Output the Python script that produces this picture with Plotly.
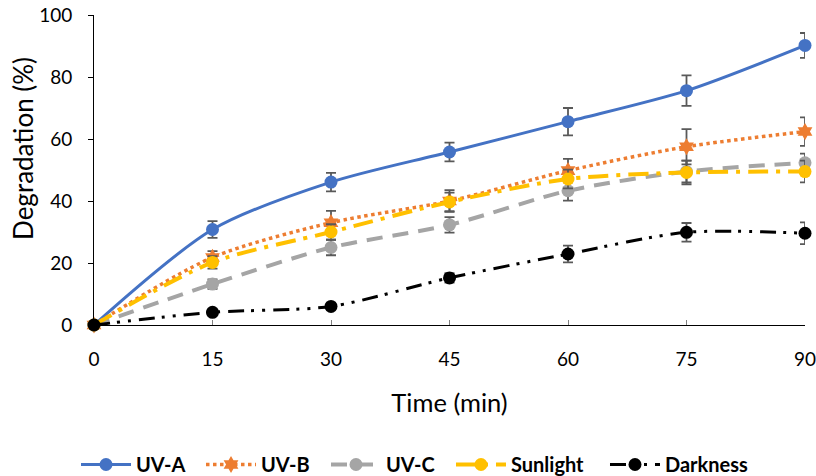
import plotly.graph_objects as go

time = [0, 15, 30, 45, 60, 75, 90]
uva = [0, 30.8, 46.1, 55.8, 65.6, 75.6, 90.2]
uva_err = [0, 2.7, 3.0, 3.0, 4.4, 4.9, 4.0]
uvb = [0, 21.8, 33.0, 40.0, 49.8, 57.5, 62.4]
uvb_err = [0, 2.0, 3.8, 3.5, 3.8, 5.7, 4.6]
uvc = [0, 13.2, 25.0, 32.3, 43.3, 49.5, 52.3]
uvc_err = [0, 1.5, 2.5, 2.5, 3.2, 3.5, 3.0]
sun = [0, 20.2, 30.0, 39.7, 47.1, 49.2, 49.5]
sun_err = [0, 2.0, 2.5, 3.0, 3.0, 3.8, 3.5]
dark = [0, 4.1, 6.0, 15.2, 22.9, 29.9, 29.6]
dark_err = [0, 1.0, 1.0, 1.5, 2.7, 3.0, 3.5]

series = [
    ("UV-A", uva, uva_err, "#4472C4", "solid", "circle", 3),
    ("UV-B", uvb, uvb_err, "#ED7D31", "dot", "hexagram", 3.5),
    ("UV-C", uvc, uvc_err, "#A5A5A5", "16px,10px", "circle", 4),
    ("Sunlight", sun, sun_err, "#FFC000", "longdashdot", "circle", 4),
    ("Darkness", dark, dark_err, "#000000", "16px,7px,3px,8px,3px,8px", "circle", 3),
]

# legend entry left positions (paper fraction)
legend_x = [-0.0253, 0.1505, 0.3263, 0.5021, 0.7187]

fig = go.Figure()
legends = {}
for i, (name, y, err, color, dash, sym, w) in enumerate(series):
    lname = "legend" if i == 0 else f"legend{i + 1}"
    fig.add_trace(go.Scatter(
        x=time, y=y, name=name, mode="lines+markers",
        line=dict(color=color, width=w, dash=dash, shape="spline", smoothing=0.8),
        marker=dict(color=color, size=13, symbol=sym),
        error_y=dict(type="data", array=err, visible=True, color="#595959",
                     thickness=1.8, width=5),
        cliponaxis=False, legend=lname,
    ))
    legends[lname] = dict(orientation="h", x=legend_x[i], xanchor="left", y=-0.45,
                          yanchor="middle", itemwidth=50, bgcolor="rgba(0,0,0,0)",
                          font=dict(size=20, color="#000000", weight="bold"))

fig.update_layout(
    width=816, height=476,
    margin=dict(l=94, r=11, t=15, b=151, autoexpand=False),
    plot_bgcolor="white", paper_bgcolor="white",
    font=dict(family="Lato, Liberation Sans, sans-serif", size=19, color="#000000"),
    showlegend=True,
    xaxis=dict(
        title=dict(text="Time (min)", font=dict(size=25.5), standoff=25),
        range=[0, 90], tickvals=time, ticks="inside", ticklen=5, tickcolor="#808080",
        ticklabelstandoff=17, ticklabeloverflow="allow",
        showline=True, linecolor="#000000", linewidth=1, showgrid=False, zeroline=False,
        tickfont=dict(size=19),
    ),
    yaxis=dict(
        range=[0, 100], dtick=20, ticks="outside", ticklen=5, tickcolor="#000000",
        ticklabelstandoff=12,
        showline=True, linecolor="#000000", linewidth=1, showgrid=False, zeroline=False,
        tickfont=dict(size=19),
    ),
    annotations=[dict(text="Degradation (%)", textangle=-90, xref="paper", yref="paper",
                      x=-0.0999, y=0.571, xanchor="center", yanchor="middle",
                      showarrow=False, font=dict(size=26, color="#000000"))],
    **legends,
)

fig.write_html("out.html", config={"displayModeBar": False},
               post_script="document.body.style.margin='0';document.body.style.overflow='hidden';")
